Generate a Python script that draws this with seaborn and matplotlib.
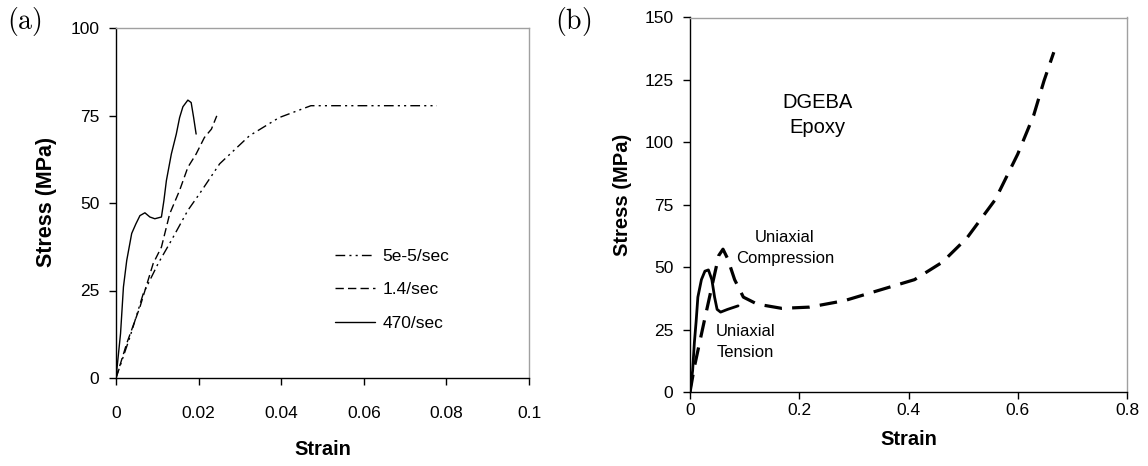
import matplotlib
matplotlib.use("Agg")
import matplotlib.pyplot as plt
import seaborn as sns
import pandas as pd

# ---------------- data ----------------
# Panel (a): strain-rate dependence
slow_strain = [0.0, 0.0034, 0.0066, 0.0102, 0.0134, 0.0174, 0.0202, 0.0251, 0.0323, 0.0395, 0.0472, 0.0777]
slow_stress = [0.0, 11.8, 24.1, 32.7, 39.3, 47.9, 52.6, 61.2, 69.2, 74.4, 77.8, 77.8]

mid_strain = [0.0, 0.0026, 0.0058, 0.0090, 0.0110, 0.0130, 0.0154, 0.0174, 0.0194, 0.0214, 0.0231, 0.0244]
mid_stress = [0.0, 9.9, 20.3, 32.7, 37.4, 46.9, 53.6, 60.2, 64.0, 68.7, 71.1, 74.9]

fast_strain = [0.0, 0.0011, 0.0018, 0.0026, 0.0038, 0.0048, 0.0058, 0.0070, 0.0082, 0.0094, 0.0110,
               0.0116, 0.0122, 0.0134, 0.0146, 0.0154, 0.0162, 0.0174, 0.0182, 0.0188, 0.0194]
fast_stress = [0.0, 12.7, 26.0, 33.6, 41.3, 44.0, 46.4, 47.2, 46.0, 45.5, 46.0,
               50.7, 56.4, 64.0, 69.7, 74.4, 77.5, 79.4, 78.7, 74.4, 69.7]

series_a_labels = ["5e-5/sec", "1.4/sec", "470/sec"]

# Panel (b): tension vs compression
ten_strain = [0.0, 0.0048, 0.008, 0.0112, 0.0144, 0.0209, 0.0273, 0.0337, 0.040, 0.045, 0.0496, 0.056, 0.0689, 0.088]
ten_stress = [0.0, 8.6, 19.8, 28.2, 38.0, 45.0, 48.4, 48.9, 45.0, 38.0, 33.1, 32.0, 33.1, 34.5]

comp_strain = [0.0, 0.008, 0.0176, 0.0273, 0.040, 0.0527, 0.0604, 0.0689, 0.0817, 0.0977, 0.123, 0.168,
               0.219, 0.283, 0.347, 0.411, 0.462, 0.507, 0.559, 0.600, 0.629, 0.648, 0.666]
comp_stress = [0.0, 10.0, 19.8, 29.6, 42.2, 54.7, 57.2, 53.4, 45.0, 38.0, 35.2, 33.5,
               34.0, 36.6, 40.8, 45.0, 52.0, 61.7, 77.1, 95.3, 110.7, 124.6, 136.1]

xticks_a = [0, 0.02, 0.04, 0.06, 0.08, 0.1]
xtick_labels_a = ["0", "0.02", "0.04", "0.06", "0.08", "0.1"]
yticks_a = [0, 25, 50, 75, 100]
xticks_b = [0, 0.2, 0.4, 0.6, 0.8]
xtick_labels_b = ["0", "0.2", "0.4", "0.6", "0.8"]
yticks_b = [0, 25, 50, 75, 100, 125, 150]

# ---------------- style ----------------
sns.set_theme(style="white")
plt.rcParams["font.family"] = ["Liberation Sans", "DejaVu Sans"]
plt.rcParams["mathtext.fontset"] = "cm"
plt.rcParams["text.color"] = "black"
plt.rcParams["axes.labelcolor"] = "black"
plt.rcParams["xtick.color"] = "black"
plt.rcParams["ytick.color"] = "black"

fig = plt.figure(figsize=(11.48, 4.66), dpi=100)
ax1 = fig.add_axes([116/1148, 1-378/466, (529-116)/1148, (378-28)/466])
ax2 = fig.add_axes([690/1148, 1-392/466, (1127-690)/1148, (392-17.5)/466])

def df(x, y):
    return pd.DataFrame({"strain": x, "stress": y})

# panel (a)
sns.lineplot(data=df(slow_strain, slow_stress), x="strain", y="stress", ax=ax1,
             estimator=None, sort=False, color="black", lw=1.0, label=series_a_labels[0])
sns.lineplot(data=df(mid_strain, mid_stress), x="strain", y="stress", ax=ax1,
             estimator=None, sort=False, color="black", lw=1.0, label=series_a_labels[1])
sns.lineplot(data=df(fast_strain, fast_stress), x="strain", y="stress", ax=ax1,
             estimator=None, sort=False, color="black", lw=1.0, label=series_a_labels[2])
lines = ax1.get_lines()
lines[0].set_dashes([7, 3, 1.5, 3, 1.5, 3])
lines[1].set_dashes([6, 3])

# panel (b)
sns.lineplot(data=df(ten_strain, ten_stress), x="strain", y="stress", ax=ax2,
             estimator=None, sort=False, color="black", lw=2.0)
sns.lineplot(data=df(comp_strain, comp_stress), x="strain", y="stress", ax=ax2,
             estimator=None, sort=False, color="black", lw=2.3)
ax2.get_lines()[1].set_dashes([5.5, 3.2])

for ax, xt, xtl, yt, xlim, ylim in [
    (ax1, xticks_a, xtick_labels_a, yticks_a, (0, 0.1), (0, 100)),
    (ax2, xticks_b, xtick_labels_b, yticks_b, (0, 0.8), (0, 150)),
]:
    ax.set_xlim(*xlim)
    ax.set_ylim(*ylim)
    ax.set_xticks(xt)
    ax.set_xticklabels(xtl)
    ax.set_yticks(yt)
    ax.set_yticklabels([str(v) for v in yt])
    for s in ["left", "bottom"]:
        ax.spines[s].set_color("black")
        ax.spines[s].set_linewidth(1.0)
    for s in ["top", "right"]:
        ax.spines[s].set_color("#a0a0a0")
        ax.spines[s].set_linewidth(1.0)
    ax.tick_params(axis="both", which="major", direction="out", length=5, width=1,
                   color="black", labelsize=12.5, labelcolor="black", bottom=True, left=True)
    ax.set_facecolor("white")
    ax.grid(False)

ax1.tick_params(axis="y", pad=7)
ax1.tick_params(axis="x", pad=15)
ax2.tick_params(axis="y", pad=7)
ax2.tick_params(axis="x", pad=3)

ax1.set_xlabel("Strain", fontsize=14.5, fontweight="bold", color="black")
ax1.set_ylabel("Stress (MPa)", fontsize=15.5, fontweight="bold", color="black")
ax2.set_xlabel("Strain", fontsize=14.5, fontweight="bold", color="black")
ax2.set_ylabel("Stress (MPa)", fontsize=14.5, fontweight="bold", color="black")
ax1.xaxis.set_label_coords(0.5, -0.178)
ax2.xaxis.set_label_coords(0.5, -0.102)
ax1.yaxis.set_label_coords(-0.143, 0.503)
ax2.yaxis.set_label_coords(-0.133, 0.526)

leg = ax1.legend(loc="upper left", bbox_to_anchor=(0.5145, 0.39), frameon=False,
                 fontsize=12.5, handlelength=2.3, handletextpad=0.4, labelspacing=1.07,
                 borderaxespad=0)
for t in leg.get_texts():
    t.set_color("black")

ax2.text(0.233, 111, "DGEBA\nEpoxy", ha="center", va="center", fontsize=14.5,
         linespacing=1.43, color="black")
ax2.text(0.174, 57.8, "Uniaxial\nCompression", ha="center", va="center", fontsize=12,
         linespacing=1.5, color="black")
ax2.text(0.102, 20, "Uniaxial\nTension", ha="center", va="center", fontsize=12,
         linespacing=1.5, color="black")

fig.text(24/1148, 1-22/466, r"$(\mathrm{a})$", ha="center", va="center", fontsize=20, color="black")
fig.text(573/1148, 1-22/466, r"$(\mathrm{b})$", ha="center", va="center", fontsize=20, color="black")

fig.savefig("out.png", dpi=100, facecolor="white")
